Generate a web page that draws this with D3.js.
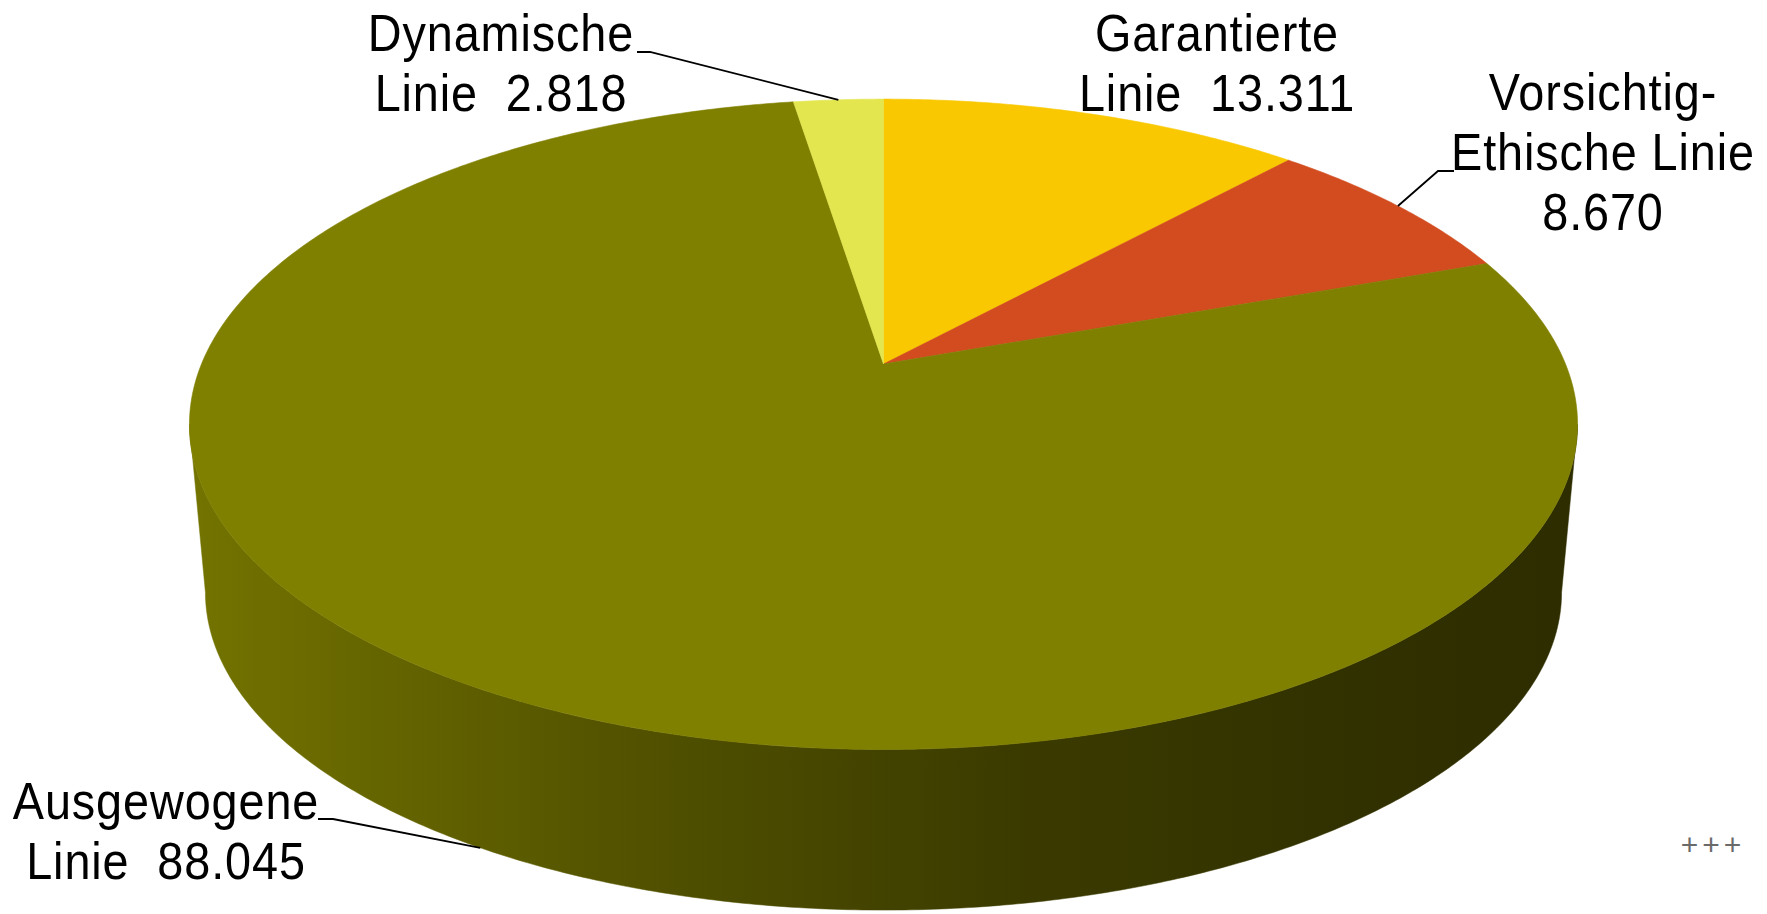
<!DOCTYPE html>
<html><head><meta charset="utf-8">
<script src="https://cdn.jsdelivr.net/npm/d3@7"></script>
<style>html,body{margin:0;padding:0;background:#fff;overflow:hidden} svg{display:block}</style>
</head><body>
<svg id="chart" width="1767" height="914"></svg>
<script>
// ---- data ----
const categories = ["Garantierte Linie", "Vorsichtig-Ethische Linie", "Ausgewogene Linie", "Dynamische Linie"];
const values = [13.311, 8.670, 88.045, 2.818];
const colors = ["#f9c800", "#d24c1f", "#7f7f00", "#e4e64f"];
const labelText = [
  ["Garantierte", "Linie  {v}"],
  ["Vorsichtig-", "Ethische Linie", "{v}"],
  ["Ausgewogene", "Linie  {v}"],
  ["Dynamische", "Linie  {v}"]
];

// ---- layout ----
const W = 1767, H = 914;
const P = {cx: 883.5, cy: 364, A: 682, B: 314, k: 0.1854, s: 0.977, D: 169.5};
const labelLayout = [
  {x: 1217, y: 51, leader: null, bottom: false},
  {x: 1603, y: 110, leader: [[1454, 171], [1438, 171]], bottom: false},
  {x: 166, y: 819, leader: [[318, 819], [333, 819]], bottom: true},
  {x: 501, y: 51, leader: [[637, 52], [650, 52]], bottom: false}
];
const lineGap = 60;
const textSqueeze = 0.9;
const sideStops = [[195, 0.906], [260, 0.866], [630, 0.646], [1030, 0.457], [1430, 0.37], [1563, 0.354]];

const svg = d3.select("#chart");
const defs = svg.append("defs");

function proj(a, bottom) {
  const u = Math.sin(a), v = -Math.cos(a), w = 1 - P.k * v;
  let x = P.A * u / w, y = P.B * v / w;
  if (bottom) { x *= P.s; y = y * P.s + P.D; }
  return [P.cx + x, P.cy + y];
}
function arcPts(a0, a1, bottom) {
  const n = Math.max(2, Math.ceil(Math.abs(a1 - a0) / (Math.PI / 360)));
  return d3.range(n + 1).map(i => proj(a0 + (a1 - a0) * i / n, bottom));
}
const line = d3.line();

const pie = d3.pie().sort(null).value(d => d)(values);

// side walls (front, visible part)
const phiL = Math.acos(-P.k), phiR = 2 * Math.PI - phiL;
const gSide = svg.append("g");
pie.forEach((d, i) => {
  const lo = Math.max(d.startAngle, phiL), hi = Math.min(d.endAngle, phiR);
  if (hi <= lo) return;
  const base = d3.rgb(colors[i]);
  const gid = "side" + i;
  const x0 = sideStops[0][0], x1 = sideStops[sideStops.length - 1][0];
  const grad = defs.append("linearGradient").attr("id", gid)
    .attr("gradientUnits", "userSpaceOnUse")
    .attr("x1", x0).attr("x2", x1).attr("y1", 0).attr("y2", 0);
  sideStops.forEach(([sx, f]) => {
    const c = d3.rgb(base.r * f, base.g * f, base.b * f);
    grad.append("stop").attr("offset", (sx - x0) / (x1 - x0)).attr("stop-color", c.formatHex());
  });
  const pts = arcPts(lo, hi, false).concat(arcPts(hi, lo, true));
  gSide.append("path").attr("d", line(pts) + "Z").attr("fill", `url(#${gid})`)
    .attr("stroke", `url(#${gid})`).attr("stroke-width", 0.5);
});

// top slices
const gTop = svg.append("g");
pie.forEach((d, i) => {
  const pts = [[P.cx, P.cy]].concat(arcPts(d.startAngle, d.endAngle, false));
  gTop.append("path").attr("d", line(pts) + "Z").attr("fill", colors[i])
    .attr("stroke", colors[i]).attr("stroke-width", 0.6).attr("stroke-linejoin", "round");
});

// labels and leader lines
const fmt = d3.format(".3f");
const gLab = svg.append("g");
pie.forEach((d, i) => {
  const L = labelLayout[i];
  if (L.leader) {
    const mid = (d.startAngle + d.endAngle) / 2;
    const end = proj(mid, L.bottom);
    gLab.append("path").attr("d", line(L.leader.concat([end])))
      .attr("fill", "none").attr("stroke", "#000").attr("stroke-width", 1.8);
  }
  const g = gLab.append("g").attr("transform", `translate(${L.x},0) scale(${textSqueeze},1)`);
  const t = g.append("text").attr("text-anchor", "middle")
    .attr("font-family", "'Liberation Sans',Arial,sans-serif")
    .attr("font-size", 52).attr("letter-spacing", 1).attr("fill", "#000")
    .style("white-space", "pre");
  labelText[i].forEach((s, j) => {
    t.append("tspan").attr("x", 0).attr("y", L.y + j * lineGap).text(s.replace("{v}", fmt(values[i])));
  });
});

// small marker bottom right
svg.append("text").attr("x", 1713).attr("y", 855).attr("text-anchor", "middle")
  .attr("font-family", "'Liberation Sans',Arial,sans-serif").attr("font-size", 30)
  .attr("letter-spacing", 4).attr("fill", "#6a6a6a").text("+++");
</script>
</body></html>
